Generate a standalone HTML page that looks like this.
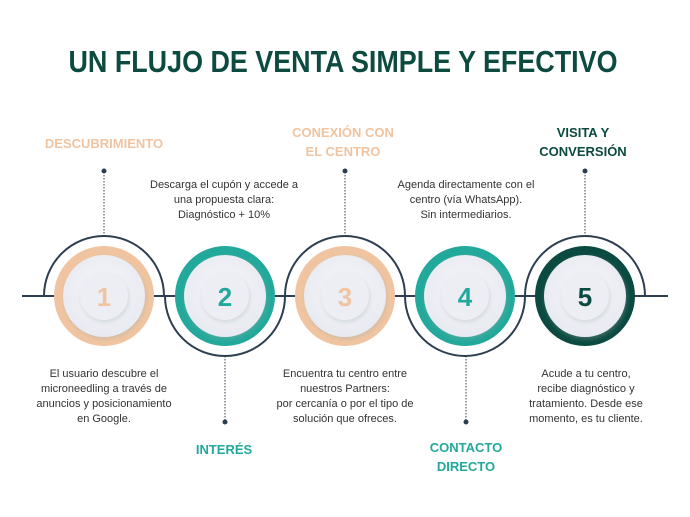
<!DOCTYPE html>
<html><head><meta charset="utf-8"><style>
html,body{margin:0;padding:0;background:#fff;}
svg{display:block;font-family:"Liberation Sans",sans-serif;}
.b{font-size:11px;fill:#333;}
.h{font-size:13px;font-weight:bold;}
</style></head><body>
<svg width="690" height="517" viewBox="0 0 690 517" xmlns="http://www.w3.org/2000/svg">
<defs>
<radialGradient id="g" cx="50%" cy="45%" r="55%"><stop offset="0" stop-color="#f6f7fb"/><stop offset="1" stop-color="#e8eaf1"/></radialGradient>
<filter id="s" x="-30%" y="-30%" width="160%" height="160%"><feDropShadow dx="1" dy="2" stdDeviation="2" flood-color="#9aa" flood-opacity="0.35"/></filter>
</defs>
<text x="343" y="72" text-anchor="middle" font-size="31" font-weight="bold" fill="#0d4a40" textLength="549" lengthAdjust="spacingAndGlyphs">UN FLUJO DE VENTA SIMPLE Y EFECTIVO</text>

<line x1="22" y1="296" x2="668" y2="296" stroke="#2d3e50" stroke-width="2"/>
<g fill="none" stroke="#2d3e50" stroke-width="2">
<path d="M44 296 A60 60 0 0 1 164 296"/>
<path d="M165 296 A60 60 0 0 0 285 296"/>
<path d="M285 296 A60 60 0 0 1 405 296"/>
<path d="M405 296 A60 60 0 0 0 525 296"/>
<path d="M525 296 A60 60 0 0 1 645 296"/>
</g>
<g stroke="#2d3e50" stroke-width="1" stroke-dasharray="1.5 1.5">
<line x1="104" y1="172" x2="104" y2="236"/>
<line x1="225" y1="356" x2="225" y2="421"/>
<line x1="345" y1="172" x2="345" y2="236"/>
<line x1="466" y1="356" x2="466" y2="421"/>
<line x1="585" y1="172" x2="585" y2="236"/>
</g>
<g fill="#2d3e50">
<circle cx="104" cy="171" r="2.5"/><circle cx="225" cy="422" r="2.5"/><circle cx="345" cy="171" r="2.5"/><circle cx="466" cy="422" r="2.5"/><circle cx="585" cy="171" r="2.5"/>
</g>

<g>
<circle cx="104" cy="296" r="50" fill="#f0c4a0"/>
<circle cx="225" cy="296" r="50" fill="#22a99b"/>
<circle cx="345" cy="296" r="50" fill="#f0c4a0"/>
<circle cx="465" cy="296" r="50" fill="#22a99b"/>
<circle cx="585" cy="296" r="50" fill="#0b4a40"/>
</g>
<g fill="url(#g)" filter="url(#s)">
<circle cx="104" cy="296" r="41"/><circle cx="225" cy="296" r="41"/><circle cx="345" cy="296" r="41"/><circle cx="465" cy="296" r="41"/><circle cx="585" cy="296" r="41"/>
</g>
<g fill="#eceef4" filter="url(#s)">
<circle cx="104" cy="296" r="24"/><circle cx="225" cy="296" r="24"/><circle cx="345" cy="296" r="24"/><circle cx="465" cy="296" r="24"/><circle cx="585" cy="296" r="24"/>
</g>
<g font-size="26" font-weight="bold" text-anchor="middle">
<text x="104" y="306" fill="#f0c4a0">1</text>
<text x="225" y="306" fill="#22a99b">2</text>
<text x="345" y="306" fill="#f0c4a0">3</text>
<text x="465" y="306" fill="#22a99b">4</text>
<text x="585" y="306" fill="#0b4a40">5</text>
</g>

<g class="h" text-anchor="middle">
<text x="104" y="148" fill="#f0c4a0">DESCUBRIMIENTO</text>
<text x="343" y="137" fill="#f0c4a0">CONEXIÓN CON</text>
<text x="343" y="156" fill="#f0c4a0">EL CENTRO</text>
<text x="583" y="137" fill="#0b4a40">VISITA Y</text>
<text x="583" y="156" fill="#0b4a40">CONVERSIÓN</text>
<text x="224" y="454" fill="#22a99b">INTERÉS</text>
<text x="466" y="452" fill="#22a99b">CONTACTO</text>
<text x="466" y="471" fill="#22a99b">DIRECTO</text>
</g>

<g class="b" text-anchor="middle">
<text x="224" y="188">Descarga el cupón y accede a</text>
<text x="224" y="203">una propuesta clara:</text>
<text x="224" y="218">Diagnóstico + 10%</text>
<text x="466" y="188">Agenda directamente con el</text>
<text x="466" y="203">centro (vía WhatsApp).</text>
<text x="466" y="218">Sin intermediarios.</text>
<text x="104" y="377">El usuario descubre el</text>
<text x="104" y="392">microneedling a través de</text>
<text x="104" y="407">anuncios y posicionamiento</text>
<text x="104" y="422">en Google.</text>
<text x="345" y="377">Encuentra tu centro entre</text>
<text x="345" y="392">nuestros Partners:</text>
<text x="345" y="407">por cercanía o por el tipo de</text>
<text x="345" y="422">solución que ofreces.</text>
<text x="586" y="377">Acude a tu centro,</text>
<text x="586" y="392">recibe diagnóstico y</text>
<text x="586" y="407">tratamiento. Desde ese</text>
<text x="586" y="422">momento, es tu cliente.</text>
</g>
</svg>
</body></html>
